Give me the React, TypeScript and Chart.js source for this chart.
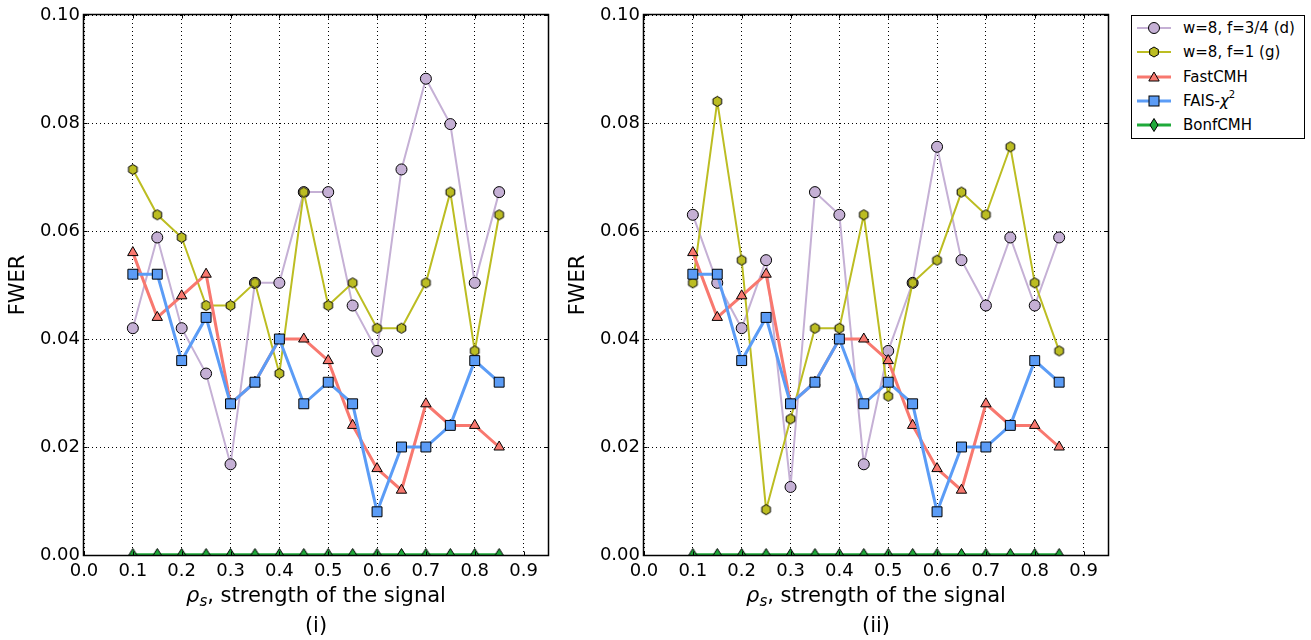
import React, { useEffect, useRef } from 'react';
import { Chart, registerables } from 'chart.js';

Chart.register(...registerables);

// ---------- data ----------
const rho = [0.1, 0.15, 0.2, 0.25, 0.3, 0.35, 0.4, 0.45, 0.5, 0.55, 0.6, 0.65, 0.7, 0.75, 0.8, 0.85];
const xTickValues = [0.0, 0.1, 0.2, 0.3, 0.4, 0.5, 0.6, 0.7, 0.8, 0.9];
const yTickValues = [0.0, 0.02, 0.04, 0.06, 0.08, 0.1];

const seriesNames = ['w=8, f=3/4 (d)', 'w=8, f=1 (g)', 'FastCMH', 'FAIS-χ²', 'BonfCMH'];

// panel (i)
const wf34_i = [0.042, 0.0588, 0.042, 0.0336, 0.0168, 0.0504, 0.0504, 0.0672, 0.0672, 0.0462, 0.0378, 0.0714, 0.0882, 0.0798, 0.0504, 0.0672];
const wf1_i = [0.0714, 0.063, 0.0588, 0.0462, 0.0462, 0.0504, 0.0336, 0.0672, 0.0462, 0.0504, 0.042, 0.042, 0.0504, 0.0672, 0.0378, 0.063];
// panel (ii)
const wf34_ii = [0.063, 0.0504, 0.042, 0.0546, 0.0126, 0.0672, 0.063, 0.0168, 0.0378, 0.0504, 0.0756, 0.0546, 0.0462, 0.0588, 0.0462, 0.0588];
const wf1_ii = [0.0504, 0.084, 0.0546, 0.0084, 0.0252, 0.042, 0.042, 0.063, 0.0294, 0.0504, 0.0546, 0.0672, 0.063, 0.0756, 0.0504, 0.0378];
// shared
const fastCMH = [0.056, 0.044, 0.048, 0.052, 0.028, 0.032, 0.04, 0.04, 0.036, 0.024, 0.016, 0.012, 0.028, 0.024, 0.024, 0.02];
const faisChi2 = [0.052, 0.052, 0.036, 0.044, 0.028, 0.032, 0.04, 0.028, 0.032, 0.028, 0.008, 0.02, 0.02, 0.024, 0.036, 0.032];
const bonfCMH = [0, 0, 0, 0, 0, 0, 0, 0, 0, 0, 0, 0, 0, 0, 0, 0];

// ---------- styles ----------
const PURPLE = '#c5b0d5';
const OLIVE = '#bcbd22';
const RED = '#f8786f';
const BLUE = '#5b9cf6';
const GREEN = '#1faa3a';
const FONT = '"DejaVu Sans", sans-serif';

function makeHexagon(r: number, fill: string) {
  const s = Math.ceil(r * 2 + 3);
  const c = document.createElement('canvas');
  c.width = s;
  c.height = s;
  const g = c.getContext('2d')!;
  g.translate(s / 2, s / 2);
  g.beginPath();
  for (let i = 0; i < 6; i++) {
    const a = -Math.PI / 2 + (i * Math.PI) / 3;
    g.lineTo(r * Math.cos(a), r * Math.sin(a));
  }
  g.closePath();
  g.fillStyle = fill;
  g.fill();
  g.lineWidth = 1;
  g.strokeStyle = '#000';
  g.stroke();
  return c;
}

function makeThinDiamond(hw: number, hh: number, fill: string) {
  const w = Math.ceil(hw * 2 + 3);
  const h = Math.ceil(hh * 2 + 3);
  const c = document.createElement('canvas');
  c.width = w;
  c.height = h;
  const g = c.getContext('2d')!;
  g.translate(w / 2, h / 2);
  g.beginPath();
  g.moveTo(0, -hh);
  g.lineTo(hw, 0);
  g.lineTo(0, hh);
  g.lineTo(-hw, 0);
  g.closePath();
  g.fillStyle = fill;
  g.fill();
  g.lineWidth = 1;
  g.strokeStyle = '#000';
  g.stroke();
  return c;
}

const framePlugin = {
  id: 'frameTicks',
  afterDatasetsDraw(chart: any) {
    const { ctx, chartArea: a, scales } = chart;
    ctx.save();
    ctx.setLineDash([]);
    ctx.strokeStyle = '#000';
    ctx.lineWidth = 1;
    const L = Math.round(a.left) - 0.5;
    const R = Math.round(a.right) + 0.5;
    const T = Math.round(a.top) - 0.5;
    const B = Math.round(a.bottom) + 0.5;
    ctx.beginPath();
    const tl = 4;
    xTickValues.forEach((v) => {
      const p = Math.round(scales.x.getPixelForValue(v)) + 0.5;
      ctx.moveTo(p, B);
      ctx.lineTo(p, B - tl);
      ctx.moveTo(p, T);
      ctx.lineTo(p, T + tl);
    });
    yTickValues.forEach((v) => {
      const p = Math.round(scales.y.getPixelForValue(v)) + 0.5;
      ctx.moveTo(L, p);
      ctx.lineTo(L + tl, p);
      ctx.moveTo(R, p);
      ctx.lineTo(R - tl, p);
    });
    ctx.stroke();
    ctx.lineWidth = 1.5;
    ctx.strokeRect(L, T, R - L, B - T);
    ctx.restore();
  },
};

function buildDatasets(purple: number[], olive: number[], hex: any, dia: any) {
  const pts = (arr: number[]) => rho.map((x, i) => ({ x, y: arr[i] }));
  return [
    {
      label: seriesNames[0], data: pts(purple), borderColor: PURPLE, backgroundColor: PURPLE,
      borderWidth: 2, pointStyle: 'circle', pointRadius: 5.5, pointBackgroundColor: PURPLE,
      pointBorderColor: '#000', pointBorderWidth: 1, order: 5,
    },
    {
      label: seriesNames[1], data: pts(olive), borderColor: OLIVE, backgroundColor: OLIVE,
      borderWidth: 2, pointStyle: hex, pointRadius: 5, order: 4,
    },
    {
      label: seriesNames[2], data: pts(fastCMH), borderColor: RED, backgroundColor: RED,
      borderWidth: 3, pointStyle: 'triangle', pointRadius: 6, pointBackgroundColor: RED,
      pointBorderColor: '#000', pointBorderWidth: 1, order: 3,
    },
    {
      label: seriesNames[3], data: pts(faisChi2), borderColor: BLUE, backgroundColor: BLUE,
      borderWidth: 3, pointStyle: 'rect', pointRadius: 7, pointBackgroundColor: BLUE,
      pointBorderColor: '#000', pointBorderWidth: 1, order: 2,
    },
    {
      label: seriesNames[4], data: pts(bonfCMH), borderColor: GREEN, backgroundColor: GREEN,
      borderWidth: 3.5, pointStyle: dia, pointRadius: 5, order: 1,
    },
  ];
}

function buildOptions(): any {
  return {
    responsive: false,
    animation: false,
    events: [],
    layout: { padding: { top: 15, right: 12, left: 0, bottom: 0 } },
    plugins: { legend: { display: false }, tooltip: { enabled: false } },
    scales: {
      x: {
        type: 'linear',
        min: 0,
        max: 0.95,
        afterBuildTicks: (s: any) => {
          s.ticks = xTickValues.map((v) => ({ value: v }));
        },
        afterFit: (s: any) => {
          s.height = 85;
        },
        ticks: {
          callback: (v: any) => Number(v).toFixed(1),
          font: { family: FONT, size: 18 },
          color: '#000',
          padding: 6,
          maxRotation: 0,
          autoSkip: false,
        },
        grid: { color: '#000', lineWidth: 1, drawTicks: false },
        border: { display: false, dash: [1, 3] },
      },
      y: {
        type: 'linear',
        min: 0,
        max: 0.1,
        afterBuildTicks: (s: any) => {
          s.ticks = yTickValues.map((v) => ({ value: v }));
        },
        afterFit: (s: any) => {
          s.width = 84;
        },
        ticks: {
          callback: (v: any) => Number(v).toFixed(2),
          font: { family: FONT, size: 18 },
          color: '#000',
          padding: 4,
          autoSkip: false,
        },
        grid: { color: '#000', lineWidth: 1, drawTicks: false },
        border: { display: false, dash: [1, 3] },
        title: {
          display: true,
          text: 'FWER',
          font: { family: FONT, size: 21 },
          color: '#000',
          padding: { top: 6, bottom: 0 },
        },
      },
    },
  };
}

function LegendSample({ kind, color }: { kind: string; color: string }) {
  const lw = kind === 'circle' || kind === 'hex' ? 2 : 3;
  let marker: any = null;
  if (kind === 'circle') marker = <circle cx={17} cy={9} r={5.5} fill={color} stroke="#000" strokeWidth={1} />;
  if (kind === 'hex') {
    const p = Array.from({ length: 6 }, (_, i) => {
      const a = -Math.PI / 2 + (i * Math.PI) / 3;
      return `${17 + 5 * Math.cos(a)},${9 + 5 * Math.sin(a)}`;
    }).join(' ');
    marker = <polygon points={p} fill={color} stroke="#000" strokeWidth={1} />;
  }
  if (kind === 'tri') {
    const r = 6;
    const p = [0, 1, 2].map((i) => {
      const a = -Math.PI / 2 + (i * 2 * Math.PI) / 3;
      return `${17 + r * Math.cos(a)},${10 + r * Math.sin(a)}`;
    }).join(' ');
    marker = <polygon points={p} fill={color} stroke="#000" strokeWidth={1} />;
  }
  if (kind === 'rect') marker = <rect x={12} y={4} width={10} height={10} fill={color} stroke="#000" strokeWidth={1} />;
  if (kind === 'dia') marker = <polygon points="17,2.5 21,9 17,15.5 13,9" fill={color} stroke="#000" strokeWidth={1} />;
  return (
    <svg width={34} height={18} style={{ display: 'block' }}>
      <line x1={0} y1={9} x2={34} y2={9} stroke={color} strokeWidth={lw} />
      {marker}
    </svg>
  );
}

const legendKinds = ['circle', 'hex', 'tri', 'rect', 'dia'];
const legendColors = [PURPLE, OLIVE, RED, BLUE, GREEN];

function XTitle({ left, panel }: { left: number; panel: string }) {
  return (
    <>
      <div
        style={{
          position: 'absolute', left: left + 84, width: 464, top: 583, textAlign: 'center',
          fontSize: 21, lineHeight: '24px', whiteSpace: 'nowrap',
        }}
      >
        <span style={{ fontStyle: 'italic' }}>ρ</span>
        <span style={{ fontStyle: 'italic', fontSize: 15, position: 'relative', top: 4 }}>s</span>, strength of the signal
      </div>
      <div
        style={{
          position: 'absolute', left: left + 84, width: 464, top: 613, textAlign: 'center',
          fontSize: 21, lineHeight: '24px',
        }}
      >
        {panel}
      </div>
    </>
  );
}

export default function App() {
  const c1 = useRef<HTMLCanvasElement>(null);
  const c2 = useRef<HTMLCanvasElement>(null);

  useEffect(() => {
    document.body.style.margin = '0';
    const hex = makeHexagon(5, OLIVE);
    const dia = makeThinDiamond(4, 6.5, GREEN);
    const ch1 = new Chart(c1.current!, {
      type: 'line',
      data: { datasets: buildDatasets(wf34_i, wf1_i, hex, dia) as any },
      options: buildOptions(),
      plugins: [framePlugin],
    });
    const ch2 = new Chart(c2.current!, {
      type: 'line',
      data: { datasets: buildDatasets(wf34_ii, wf1_ii, hex, dia) as any },
      options: buildOptions(),
      plugins: [framePlugin],
    });
    return () => {
      ch1.destroy();
      ch2.destroy();
    };
  }, []);

  return (
    <div
      style={{
        position: 'absolute', left: 0, top: 0, width: 1311, height: 640, background: '#fff',
        fontFamily: FONT, color: '#000', overflow: 'hidden',
      }}
    >
      <canvas ref={c1} width={560} height={640} style={{ position: 'absolute', left: 0, top: 0, width: 560, height: 640 }} />
      <canvas ref={c2} width={560} height={640} style={{ position: 'absolute', left: 560, top: 0, width: 560, height: 640 }} />
      <XTitle left={0} panel="(i)" />
      <XTitle left={560} panel="(ii)" />
      <div
        style={{
          position: 'absolute', left: 1131, top: 15, width: 174, height: 124,
          border: '1.5px solid #000', boxSizing: 'border-box',
        }}
      >
        {seriesNames.map((name, i) => (
          <div key={name} style={{ position: 'absolute', left: 5, top: 2 + i * 24.25, height: 20, display: 'flex', alignItems: 'center' }}>
            <LegendSample kind={legendKinds[i]} color={legendColors[i]} />
            <span style={{ marginLeft: 12, fontSize: 15, whiteSpace: 'nowrap' }}>
              {i === 3 ? (
                <>
                  FAIS-<span style={{ fontStyle: 'italic' }}>χ</span>
                  <sup style={{ fontSize: 10, verticalAlign: 'top', position: 'relative', top: -3 }}>2</sup>
                </>
              ) : (
                name
              )}
            </span>
          </div>
        ))}
      </div>
    </div>
  );
}
